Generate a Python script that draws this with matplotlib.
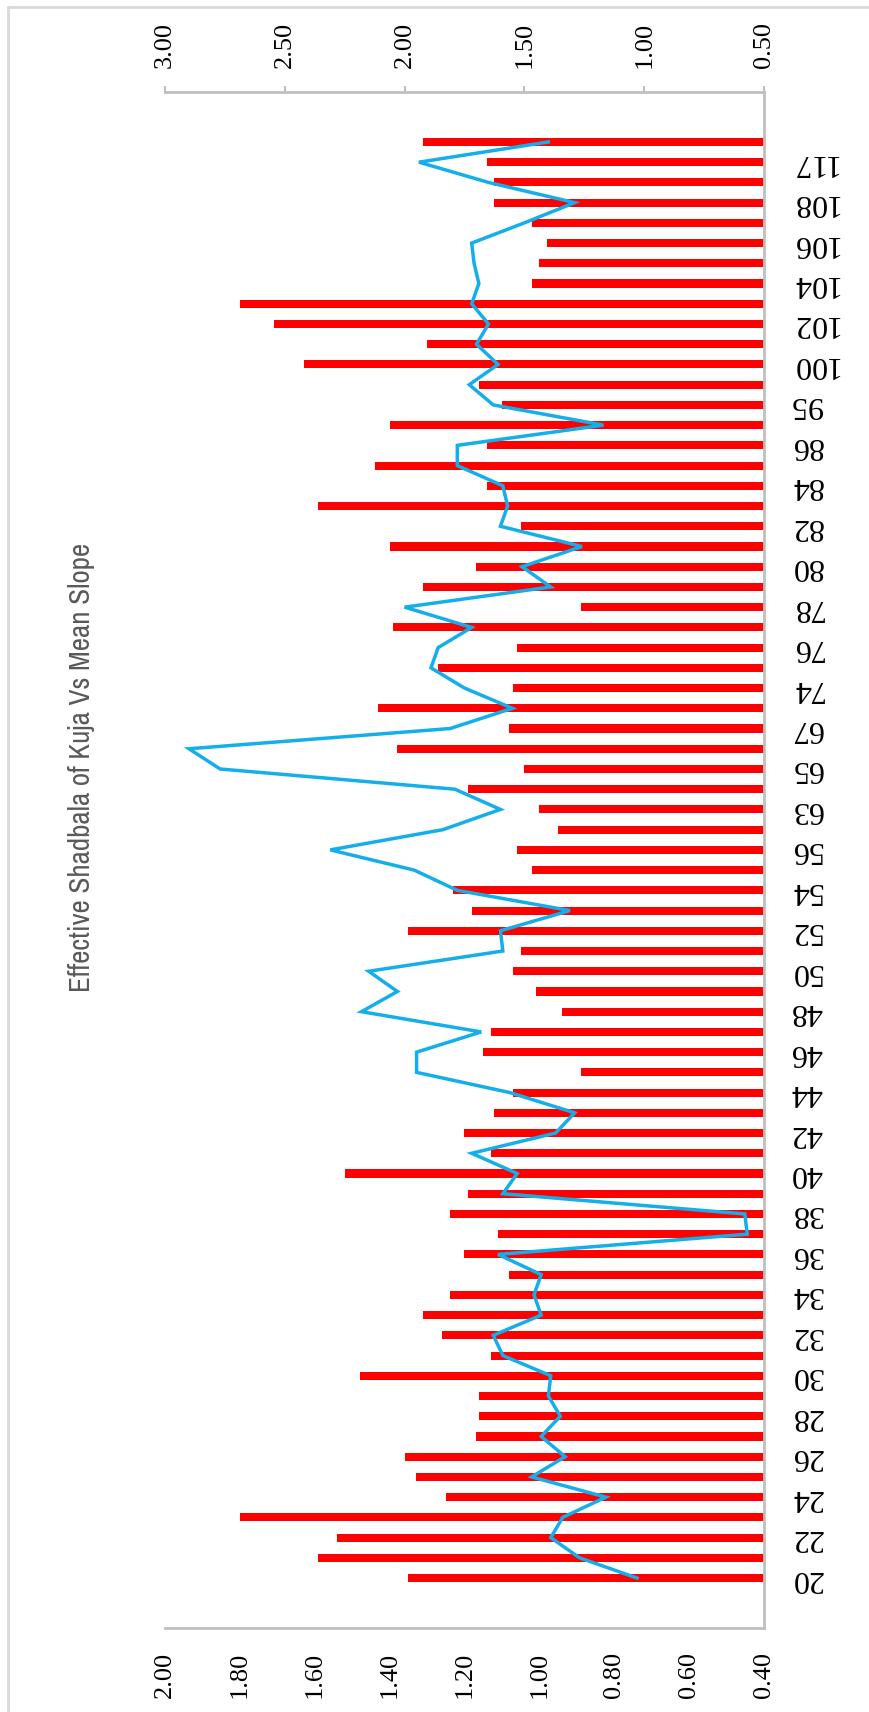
import numpy as np
import matplotlib
matplotlib.use("Agg")
import matplotlib.pyplot as plt
from matplotlib import font_manager
from matplotlib.lines import Line2D

# categories (bottom to top); the odd ones are never labelled on the chart
categories = [20, 21, 22, 23, 24, 25, 26, 27, 28, 29,
              30, 31, 32, 33, 34, 35, 36, 37, 38, 39,
              40, 41, 42, 43, 44, 45, 46, 47, 48, 49,
              50, 51, 52, 53, 54, 55, 56, 60, 63, 64,
              65, 66, 67, 70, 74, 75, 76, 77, 78, 79,
              80, 81, 82, 83, 84, 85, 86, 90, 95, 98,
              100, 101, 102, 103, 104, 105, 106, 107, 108, 112,
              117, 120]

# red bars, primary value axis (0.40 - 2.00)
bar_values = [1.35, 1.59, 1.54, 1.80, 1.25, 1.33, 1.36, 1.17, 1.16, 1.16,
              1.48, 1.13, 1.26, 1.31, 1.24, 1.08, 1.20, 1.11, 1.24, 1.19,
              1.52, 1.13, 1.20, 1.12, 1.07, 0.89, 1.15, 1.13, 0.94, 1.01,
              1.07, 1.05, 1.35, 1.18, 1.23, 1.02, 1.06, 0.95, 1.00, 1.19,
              1.04, 1.38, 1.08, 1.43, 1.07, 1.27, 1.06, 1.39, 0.89, 1.31,
              1.17, 1.40, 1.05, 1.59, 1.14, 1.44, 1.14, 1.40, 1.10, 1.16,
              1.63, 1.30, 1.71, 1.80, 1.02, 1.00, 0.98, 1.02, 1.12, 1.12,
              1.14, 1.31]

# blue line, secondary value axis (0.50 - 3.00)
line_values = [1.03, 1.27, 1.39, 1.34, 1.16, 1.47, 1.33, 1.43, 1.35, 1.40,
               1.39, 1.59, 1.63, 1.43, 1.46, 1.43, 1.61, 0.57, 0.58, 1.59,
               1.53, 1.72, 1.37, 1.29, 1.56, 1.95, 1.95, 1.68, 2.18, 2.03,
               2.15, 1.59, 1.60, 1.31, 1.78, 1.96, 2.31, 1.84, 1.60, 1.79,
               2.77, 2.90, 1.81, 1.55, 1.75, 1.89, 1.86, 1.72, 2.00, 1.39,
               1.51, 1.26, 1.60, 1.57, 1.59, 1.78, 1.78, 1.17, 1.63, 1.73,
               1.61, 1.70, 1.65, 1.72, 1.69, 1.71, 1.72, 1.50, 1.29, 1.65,
               1.94, 1.40]

bar_ticks = [0.40, 0.60, 0.80, 1.00, 1.20, 1.40, 1.60, 1.80, 2.00]
line_ticks = [0.50, 1.00, 1.50, 2.00, 2.50, 3.00]
title = "Effective Shadbala of Kuja Vs Mean Slope"

W, H = 870, 1712
serif = "Liberation Serif"
grey = "#BFBFBF"

names = sorted({f.name for f in font_manager.fontManager.ttflist})
narrow = [n for n in names if "Narrow" in n or "Condensed" in n]
title_font = narrow[0] if narrow else "Open Sans"

fig = plt.figure(figsize=(W / 100, H / 100), dpi=100)
left, right, top, bottom = 165, 764, 92, 1628
ax = fig.add_axes([left / W, (H - bottom) / H, (right - left) / W, (bottom - top) / H])

pos = np.arange(len(categories))
ax.barh(pos, bar_values, height=0.4, color="#FF0000", zorder=2)
ax.set_xlim(2.0, 0.4)
ax.set_ylim(-2.47, len(categories) + 1.47)

ax.set_xticks(bar_ticks)
ax.set_xticklabels([f"{t:.2f}" for t in bar_ticks], rotation=90,
                   fontfamily=serif, fontsize=19)
ax.tick_params(axis="x", length=0, pad=17)

ax.yaxis.tick_right()
ax.set_yticks(pos[::2])
ax.set_yticklabels([str(c) for c in categories[::2]], rotation=180,
                   fontfamily=serif, fontsize=23, va="center")
ax.tick_params(axis="y", length=0, pad=19)

for s in ["left", "top"]:
    ax.spines[s].set_visible(False)
for s in ["right", "bottom"]:
    ax.spines[s].set_color(grey)
    ax.spines[s].set_linewidth(2)

ax2 = ax.twiny()
ax2.plot(line_values, pos, color="#14AEEA", linewidth=2.5, zorder=3,
         solid_joinstyle="miter")
ax2.set_xlim(3.0, 0.5)
ax2.set_xticks(line_ticks)
ax2.set_xticklabels([f"{t:.2f}" for t in line_ticks], rotation=90,
                    fontfamily=serif, fontsize=19)
ax2.tick_params(axis="x", direction="out", length=4.5, width=1.5,
                color=grey, pad=13)
for s in ["left", "right", "bottom"]:
    ax2.spines[s].set_visible(False)
ax2.spines["top"].set_color(grey)
ax2.spines["top"].set_linewidth(2)

# chart border (only its top and left edges fall inside the picture)
fig.add_artist(Line2D([8 / W, 1], [1 - 7 / H, 1 - 7 / H], color="#D9D9D9", lw=2))
fig.add_artist(Line2D([8 / W, 8 / W], [0, 1 - 7 / H], color="#D9D9D9", lw=2))

t = fig.text(82 / W, 1 - 767 / H, title, rotation=90, ha="center", va="center",
             color="#595959", fontfamily=title_font, fontsize=28)
# fit the title to its length in the reference
r = fig.canvas.get_renderer()
ext = t.get_window_extent(r)
t.set_fontsize(28 * 450 / ext.height)

fig.savefig("out.png", dpi=100)
